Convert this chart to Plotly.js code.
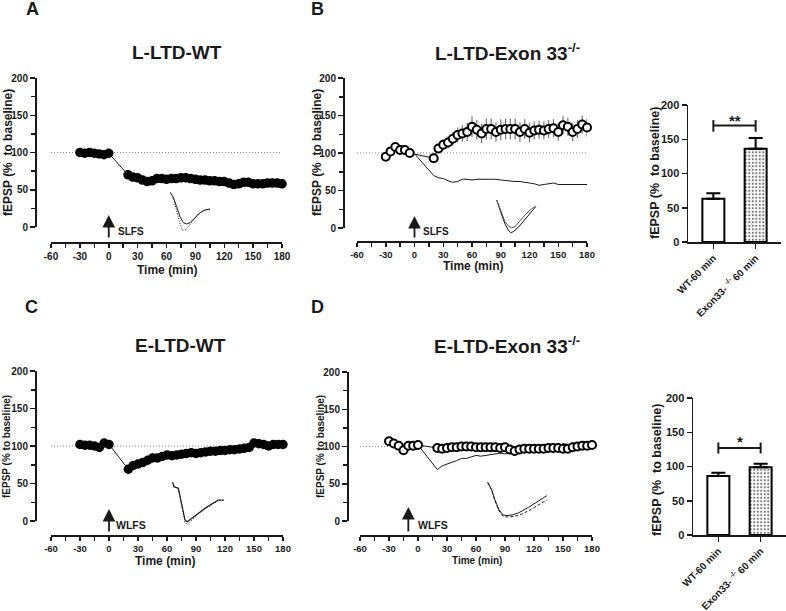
<!DOCTYPE html>
<html><head><meta charset="utf-8">
<script src="https://cdn.plot.ly/plotly-3.0.1.min.js"></script>
<style>html,body{margin:0;padding:0;background:#fff}</style>
</head><body><div id="chart" style="width:786px;height:611px"></div>
<script>
// ---------------- DATA ----------------
const timeTicks = [-60, -30, 0, 30, 60, 90, 120, 150, 180];
const timeTickLabels = ['-60', '-30', '0', '30', '60', '90', '120', '150', '180'];
const fepspTicks = [0, 50, 100, 150, 200];
const timeBaseline = [-30, -25, -20, -15, -10, -5, 0];
const timeBaselineKO = [-30, -25, -20, -15, -10, -5];
const timePost = [20, 25, 30, 35, 40, 45, 50, 55, 60, 65, 70, 75, 80, 85, 90, 95, 100, 105, 110, 115, 120, 125, 130, 135, 140, 145, 150, 155, 160, 165, 170, 175, 180];

// A: L-LTD WT
const lltdWT_base = [100, 99, 100, 99, 98, 97, 99];
const lltdWT_baseErr = [3, 3, 3, 3, 3, 3, 3];
const lltdWT_post = [70, 67, 66, 63, 61, 62, 65, 65, 64, 65, 65, 66, 66, 65, 64, 63, 63, 62, 62, 61, 61, 59, 57, 58, 60, 60, 58, 58, 58, 59, 59, 59, 58];
const lltdWT_postErr = [5, 5, 5, 5, 5, 5, 5, 5, 6, 6, 6, 6, 6, 6, 5, 5, 5, 5, 5, 5, 5, 5, 5, 5, 5, 5, 5, 5, 5, 5, 5, 5, 5];

// B: L-LTD Exon33-/-
const lltdKO_base = [95, 102, 108, 104, 104, 100];
const lltdKO_baseErr = [4, 4, 4, 4, 4, 4];
const lltdKO_post = [93, 106, 111, 114, 119, 124, 126, 128, 135, 131, 126, 132, 132, 128, 131, 132, 132, 132, 128, 132, 127, 130, 131, 130, 132, 133, 128, 137, 135, 128, 132, 138, 134];
const lltdKO_postErr = [5, 6, 7, 8, 9, 10, 11, 12, 14, 13, 13, 14, 14, 13, 14, 14, 14, 14, 13, 13, 13, 12, 12, 12, 12, 12, 12, 12, 12, 12, 12, 12, 12];

// C: E-LTD WT
const eltdWT_base = [102, 101, 101, 100, 98, 104, 102];
const eltdWT_post = [69, 74, 76, 78, 81, 84, 84, 86, 88, 87, 88, 89, 90, 91, 90, 91, 92, 93, 93, 94, 94, 95, 95, 96, 97, 98, 104, 103, 102, 100, 102, 102, 102];

// D: E-LTD Exon33-/-
const eltdKO_base = [107, 104, 101, 95, 101, 101, 102];
const eltdKO_post = [98, 97, 98, 99, 99, 100, 100, 100, 99, 99, 99, 99, 99, 98, 99, 96, 94, 96, 97, 97, 97, 97, 97, 98, 98, 98, 97, 97, 99, 100, 101, 101, 102];

// Bar summaries
const barCategories = ['WT-60 min', 'Exon33- <sup>-/-</sup> 60 min'];
const lltdBarValues = [63, 136];
const lltdBarErr = [8, 16];
const eltdBarValues = [86, 99];
const eltdBarErr = [5, 5];
const lltdSig = '**';
const eltdSig = '*';

// Inset fEPSP waveforms (arbitrary units: time, amplitude)
const insetA_t1 = [0, 3, 6.7, 10, 13.3, 16.7, 20, 25, 30, 35, 40];
const insetA_v1 = [-0.3, -4.7, -14.7, -24.7, -30.7, -32, -30.7, -25.3, -20.7, -18, -17];
const insetA_t2 = [0, 3, 6, 9.3, 12.3, 15, 18.3, 23.3, 28.3, 33.3, 40];
const insetA_v2 = [-0.3, -4.7, -16.3, -29.7, -38, -38, -34.7, -28, -22, -18.7, -17];

const insetB_t1 = [0.7, 3, 5.7, 9, 12.3, 14.7, 17.3, 22.3, 27.3, 32.3, 39.7];
const insetB_v1 = [0, -6, -15, -24, -30, -32.7, -31.7, -27.3, -21.7, -15, -6.7];
const insetB_t2 = [0.7, 3, 5.7, 9, 12.3, 15.7, 19, 24, 29, 34, 39.7];
const insetB_v2 = [0, -6, -15, -21.7, -25.7, -27.7, -26.7, -20.7, -15, -10, -6];

const insetC_t1 = [0.7, 2, 6.3, 8, 10.7, 13, 15.3, 19.7, 26.3, 33, 39.7, 46.3, 52];
const insetC_v1 = [-0.3, -4.7, -6.3, -14.7, -28, -38, -39.7, -36.3, -31.3, -26.3, -22, -18, -18];
const insetC_v2 = [-0.3, -4.7, -6.3, -15, -29, -40, -42.5, -38, -32, -27, -22.5, -18.5, -18.5];

const insetD_t1 = [0.7, 3, 4.7, 8, 12, 16.3, 19.7, 25, 31.3, 41.3, 51.3, 59.7];
const insetD_v1 = [-0.3, -4.7, -8, -18, -28, -33, -33.5, -33, -31, -25.5, -19, -13.7];
const insetD_t2 = [0.7, 3, 4.7, 8, 12, 16.3, 21.3, 27, 33, 43, 53, 59.7];
const insetD_v2 = [-0.3, -4.7, -8, -19, -29, -34.5, -35, -34.5, -33, -28, -22, -18];

// ---------------- LAYOUT HELPERS ----------------
const W = 786, H = 611;
const X = px => px / W;
const Y = py => 1 - py / H;
const FONT = 'Liberation Sans, Arial, sans-serif';
const INK = '#1a1a1a';

function timeXAxis(x0, x1, linePy, fsize) {
  return {
    domain: [X(x0), X(x1)], range: [-60, 180], anchor: 'free', position: Y(linePy),
    tickmode: 'array', tickvals: timeTicks, ticktext: timeTickLabels,
    ticks: 'outside', ticklen: 4, tickwidth: 1.5, tickcolor: INK,
    minor: {ticks: 'outside', ticklen: 4, tickwidth: 1.5, tickcolor: INK, dtick: 15, tick0: -60},
    showline: true, linewidth: 1.5, linecolor: INK, showgrid: false, zeroline: false,
    tickfont: {family: FONT, size: fsize, weight: 'bold', color: INK}
  };
}
function fepspYAxis(top, bottom, linePx) {
  return {
    domain: [Y(bottom), Y(top)], range: [0, 200], anchor: 'free', position: X(linePx),
    tickmode: 'array', tickvals: fepspTicks, ticks: 'outside', ticklen: 5, tickwidth: 1.5, tickcolor: INK,
    minor: {ticks: 'outside', ticklen: 4, tickwidth: 1.5, tickcolor: INK, dtick: 25, tick0: 0},
    showline: true, linewidth: 1.5, linecolor: INK, showgrid: false, zeroline: false,
    tickfont: {family: FONT, size: 10, weight: 'bold', color: INK}
  };
}
function barXAxis(x0, x1, yname) {
  return {
    domain: [X(x0), Math.min(1, X(x1))], anchor: yname, type: 'category', range: [-0.6, 1.6],
    ticks: 'outside', ticklen: 5, tickwidth: 1.5, tickcolor: INK, tickangle: -45,
    showline: true, linewidth: 1.5, linecolor: INK, showgrid: false, zeroline: false,
    tickfont: {family: FONT, size: 10, weight: 'bold', color: INK}
  };
}
function barYAxis(top, bottom, xname) {
  return {
    domain: [Y(bottom), Y(top)], anchor: xname, range: [0, 200],
    tickmode: 'array', tickvals: fepspTicks, ticks: 'outside', ticklen: 5, tickwidth: 1.5, tickcolor: INK,
    showline: true, linewidth: 1.5, linecolor: INK, showgrid: false, zeroline: false,
    tickfont: {family: FONT, size: 11, weight: 'bold', color: INK}
  };
}
function insetAxes(ox, oy, w, h, n) {
  return [
    {domain: [X(ox), X(ox + w)], range: [0, w], anchor: 'y' + n, visible: false},
    {domain: [Y(oy + h), Y(oy)], range: [-h, 0], anchor: 'x' + n, visible: false}
  ];
}
function txt(px, py, text, size, opts) {
  return Object.assign({
    xref: 'paper', yref: 'paper', x: X(px), y: Y(py), text: text, showarrow: false,
    xanchor: 'center', yanchor: 'middle',
    font: {family: FONT, size: size, weight: 'bold', color: INK}
  }, opts || {});
}
function arrow(xref, xval, tipPy, tailPy) {
  return {xref: xref, yref: 'paper', x: xval, y: Y(tipPy), ax: 0, ay: tailPy - tipPy,
    text: '', showarrow: true, arrowhead: 2, arrowsize: 1.4, arrowwidth: 1.8, arrowcolor: INK};
}
function refLine(xr, yr) {
  return {type: 'line', xref: xr, yref: yr, x0: -60, x1: 180, y0: 100, y1: 100, layer: 'below',
    line: {color: '#888', width: 1, dash: '1px,2px'}};
}
function seg(xr, yr, x0, y0, x1, y1) {
  return {type: 'line', xref: xr, yref: yr, x0: x0, x1: x1, y0: y0, y1: y1, line: {color: INK, width: 2}};
}

// ---------------- TRACES ----------------
const filledMarker = {size: 9.5, color: '#000'};
const openMarker = {size: 8, color: '#fff', line: {color: '#000', width: 2}};
const thinLine = {color: INK, width: 1};

const traces = [
  // A
  {x: timeBaseline.concat(timePost), y: lltdWT_base.concat(lltdWT_post), xaxis: 'x', yaxis: 'y',
   mode: 'lines+markers', line: thinLine, marker: filledMarker, cliponaxis: false,
   error_y: {type: 'data', array: lltdWT_baseErr.concat(lltdWT_postErr), color: '#222', thickness: 1, width: 0}},
  // B
  {x: [0].concat(timePost), y: [lltdWT_base[6]].concat(lltdWT_post), xaxis: 'x2', yaxis: 'y2',
   mode: 'lines', line: thinLine, cliponaxis: false},
  {x: timeBaselineKO.concat(timePost), y: lltdKO_base.concat(lltdKO_post), xaxis: 'x2', yaxis: 'y2',
   mode: 'lines+markers', line: thinLine, marker: openMarker, cliponaxis: false,
   error_y: {type: 'data', array: lltdKO_baseErr.concat(lltdKO_postErr), color: '#777', thickness: 1.2, width: 0}},
  // C
  {x: timeBaseline.concat(timePost), y: eltdWT_base.concat(eltdWT_post), xaxis: 'x3', yaxis: 'y3',
   mode: 'lines+markers', line: thinLine, marker: {size: 9.5, color: '#000'}, cliponaxis: false},
  // D
  {x: [0].concat(timePost), y: [eltdWT_base[6]].concat(eltdWT_post), xaxis: 'x4', yaxis: 'y4',
   mode: 'lines', line: thinLine, cliponaxis: false},
  {x: timeBaseline.concat(timePost), y: eltdKO_base.concat(eltdKO_post), xaxis: 'x4', yaxis: 'y4',
   mode: 'lines+markers', line: thinLine, marker: openMarker, cliponaxis: false},
  // Bars L-LTD
  {type: 'bar', x: barCategories, y: lltdBarValues, xaxis: 'x5', yaxis: 'y5', width: 0.52,
   marker: {color: '#fff', line: {color: '#000', width: 2},
            pattern: {shape: ['', '.'], fgcolor: '#777', bgcolor: '#fff', size: 3.5, solidity: 0.3}},
   error_y: {type: 'data', symmetric: false, array: lltdBarErr, arrayminus: [0, 0], color: '#000', thickness: 2, width: 7}},
  // Bars E-LTD
  {type: 'bar', x: barCategories, y: eltdBarValues, xaxis: 'x6', yaxis: 'y6', width: 0.52,
   marker: {color: '#fff', line: {color: '#000', width: 2},
            pattern: {shape: ['', '.'], fgcolor: '#777', bgcolor: '#fff', size: 3.5, solidity: 0.3}},
   error_y: {type: 'data', symmetric: false, array: eltdBarErr, arrayminus: [0, 0], color: '#000', thickness: 2, width: 7}},
  // Insets
  {x: insetA_t2, y: insetA_v2, xaxis: 'x7', yaxis: 'y7', mode: 'lines', line: {color: INK, width: 1, dash: '1px,1.5px'}, cliponaxis: false},
  {x: insetA_t1, y: insetA_v1, xaxis: 'x7', yaxis: 'y7', mode: 'lines', line: {color: INK, width: 1}, cliponaxis: false},
  {x: insetB_t1, y: insetB_v1, xaxis: 'x8', yaxis: 'y8', mode: 'lines', line: {color: INK, width: 1}, cliponaxis: false},
  {x: insetB_t2, y: insetB_v2, xaxis: 'x8', yaxis: 'y8', mode: 'lines', line: {color: '#555', width: 1}, cliponaxis: false},
  {x: insetC_t1, y: insetC_v2, xaxis: 'x9', yaxis: 'y9', mode: 'lines', line: {color: INK, width: 1, dash: '1px,1.5px'}, cliponaxis: false},
  {x: insetC_t1, y: insetC_v1, xaxis: 'x9', yaxis: 'y9', mode: 'lines', line: {color: INK, width: 1.2}, cliponaxis: false},
  {x: insetD_t2, y: insetD_v2, xaxis: 'x10', yaxis: 'y10', mode: 'lines', line: {color: INK, width: 1, dash: '3px,2px'}, cliponaxis: false},
  {x: insetD_t1, y: insetD_v1, xaxis: 'x10', yaxis: 'y10', mode: 'lines', line: {color: INK, width: 1}, cliponaxis: false}
];

const iA = insetAxes(170, 192, 42, 40, 7);
const iB = insetAxes(496, 200, 41, 34, 8);
const iC = insetAxes(172, 482, 53, 44, 9);
const iD = insetAxes(487, 482, 61, 36, 10);

const yTitleWide = 'fEPSP (% \u00a0to baseline)';
const yTitle = 'fEPSP (% to baseline)';

const layout = {
  width: W, height: H, margin: {l: 0, r: 0, t: 0, b: 0},
  paper_bgcolor: '#fff', plot_bgcolor: 'rgba(0,0,0,0)', showlegend: false,
  font: {family: FONT, color: INK},
  xaxis: timeXAxis(51, 282, 242, 10), yaxis: fepspYAxis(78, 227, 35),
  xaxis2: timeXAxis(357, 587, 241, 9.5), yaxis2: fepspYAxis(78, 228, 343),
  xaxis3: timeXAxis(51, 283, 535, 9.5), yaxis3: fepspYAxis(371, 521, 35),
  xaxis4: timeXAxis(360, 592, 535, 9.5), yaxis4: fepspYAxis(372, 521, 347),
  xaxis5: barXAxis(688, 781, 'y5'), yaxis5: barYAxis(105, 242, 'x5'),
  xaxis6: barXAxis(693, 786, 'y6'), yaxis6: barYAxis(398, 535, 'x6'),
  xaxis7: iA[0], yaxis7: iA[1], xaxis8: iB[0], yaxis8: iB[1],
  xaxis9: iC[0], yaxis9: iC[1], xaxis10: iD[0], yaxis10: iD[1],
  shapes: [
    refLine('x', 'y'), refLine('x2', 'y2'), refLine('x3', 'y3'), refLine('x4', 'y4'),
    seg('x5', 'y5', 0, 170, 1, 170), seg('x5', 'y5', 0, 161, 0, 178), seg('x5', 'y5', 1, 161, 1, 178),
    seg('x6', 'y6', 0, 127, 1, 127), seg('x6', 'y6', 0, 119, 0, 135), seg('x6', 'y6', 1, 119, 1, 135)
  ],
  annotations: [
    // panel letters
    txt(32, 9, 'A', 18), txt(317, 9, 'B', 18), txt(31, 307, 'C', 18), txt(317, 307, 'D', 18),
    // titles
    txt(177, 52, 'L-LTD-WT', 19), txt(507, 52, 'L-LTD-Exon 33<sup>-/-</sup>', 19),
    txt(180, 345, 'E-LTD-WT', 19), txt(507, 345, 'E-LTD-Exon 33<sup>-/-</sup>', 19),
    // axis titles
    txt(8, 153, yTitleWide, 12, {textangle: -90}),
    txt(317, 153, yTitleWide, 12, {textangle: -90}),
    txt(6, 447, yTitle, 10, {textangle: -90}),
    txt(320, 447, yTitle, 10, {textangle: -90}),
    txt(655, 173, yTitleWide, 12.5, {textangle: -90}),
    txt(657, 470, yTitleWide, 12.5, {textangle: -90}),
    txt(167, 270, 'Time (min)', 12), txt(473, 266, 'Time (min)', 12),
    txt(165, 561, 'Time (min)', 12), txt(477, 560, 'Time (min)', 10),
    // stimulation labels
    txt(116, 231, 'SLFS', 10, {xanchor: 'left'}), txt(421, 231, 'SLFS', 10, {xanchor: 'left'}),
    txt(114, 525, 'WLFS', 10.5, {xanchor: 'left'}), txt(416, 525, 'WLFS', 10.5, {xanchor: 'left'}),
    arrow('x', 0, 215, 239), arrow('x2', 0, 216, 239), arrow('x3', 0, 509, 533), arrow('x4', -10, 507, 533),
    // significance
    {xref: 'x5', yref: 'y5', x: 0.5, y: 178, text: lltdSig, showarrow: false, yanchor: 'middle',
     font: {family: FONT, size: 15, weight: 'bold', color: INK}},
    {xref: 'x6', yref: 'y6', x: 0.5, y: 137, text: eltdSig, showarrow: false, yanchor: 'middle',
     font: {family: FONT, size: 15, weight: 'bold', color: INK}}
  ]
};

Plotly.newPlot('chart', traces, layout, {displayModeBar: false, staticPlot: true});
</script>
</body></html>
